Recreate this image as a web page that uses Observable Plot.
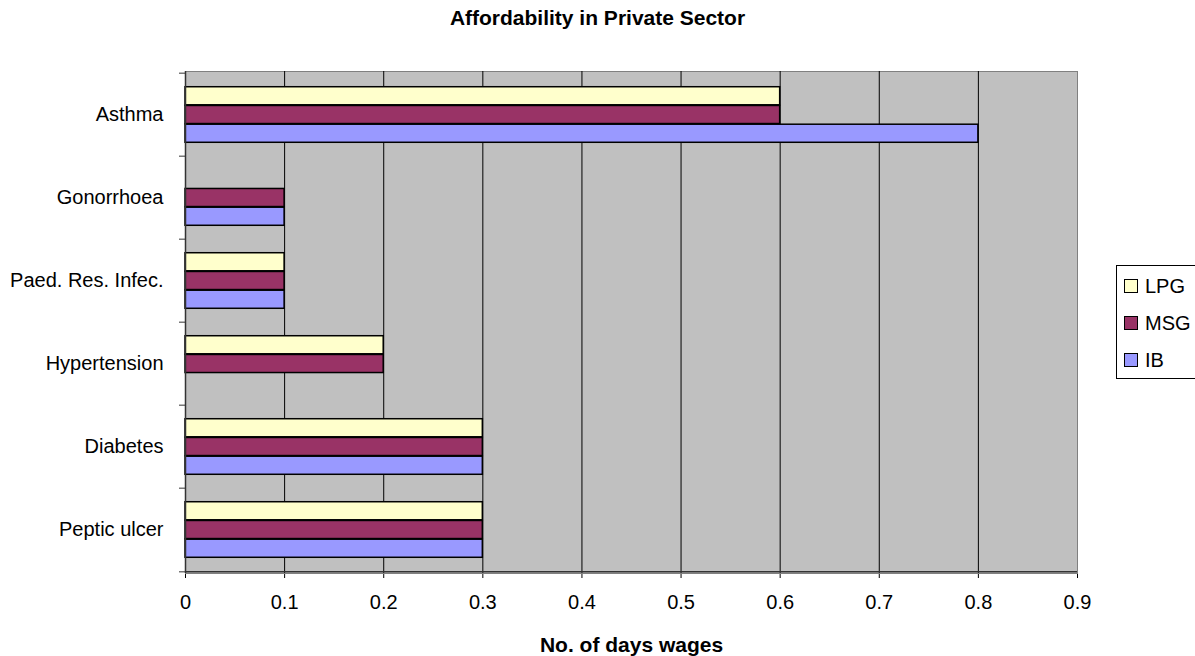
<!DOCTYPE html>
<html><head><meta charset="utf-8">
<script src="https://cdn.jsdelivr.net/npm/d3@7"></script>
<script src="https://cdn.jsdelivr.net/npm/@observablehq/plot@0.6"></script>
<style>
html,body{margin:0;padding:0;background:#fff;overflow:hidden}
#wrap{position:relative;width:1195px;height:656px;font-family:Arial,"Liberation Sans",sans-serif}
#wrap svg{display:block;position:absolute;left:0;top:0}
#title{position:absolute;left:0;top:0;width:1195px;height:36px;line-height:36px;text-align:center;font-weight:bold;font-size:21px;color:#000}
#legend{position:absolute;left:1116px;top:265px;width:90px;height:114px;box-sizing:border-box;border:1px solid #000;border-right:none;background:#fff}
.item{position:absolute;left:7px;height:20px;line-height:20px;font-size:20px;color:#000}
.sw{display:inline-block;width:12px;height:12px;border:1px solid #000;vertical-align:middle;margin-right:7px;position:relative;top:-2px}
</style></head><body>
<div id="wrap"><div id="title"></div><div id="legend"></div></div>
<script>
const chartTitle = "Affordability in Private Sector";
const xLabel = "No. of days wages";
const categories = ["Asthma", "Gonorrhoea", "Paed. Res. Infec.", "Hypertension", "Diabetes", "Peptic ulcer"];
const seriesNames = ["LPG", "MSG", "IB"];
const lpg = [0.6, null, 0.1, 0.2, 0.3, 0.3];
const msg = [0.6, 0.1, 0.1, 0.2, 0.3, 0.3];
const ib  = [0.8, 0.1, 0.1, null, 0.3, 0.3];
const xTicks = [0, 0.1, 0.2, 0.3, 0.4, 0.5, 0.6, 0.7, 0.8, 0.9];
const seriesColors = ["#FFFFCC", "#993366", "#9999FF"];

const seriesValues = [lpg, msg, ib];
const rows = categories.flatMap((c, i) =>
  seriesNames.map((s, j) => ({category: c, series: s, value: seriesValues[j][i]}))
).filter(d => d.value != null);

const W = 1195, H = 656, mL = 185, mR = 118, mT = 71, mB = 83;
const step = (H - mT - mB) / categories.length;
const barH = step * 0.224;
const inset = (step - barH) / 2;

const marks = [
  Plot.frame({fill: "#c0c0c0", stroke: "#808080"}),
  Plot.ruleX(xTicks.slice(1, -1), {stroke: "#000", strokeWidth: 1}),
  ...seriesNames.map((s, j) => Plot.barX(rows.filter(d => d.series === s), {
    x: "value", y: "category", fill: "series", stroke: "#000", strokeWidth: 1.5,
    insetTop: inset, insetBottom: inset, dy: (j - 1) * barH
  })),
  Plot.ruleX([0], {stroke: "#333", strokeWidth: 1.5}),
  Plot.ruleY([categories[categories.length - 1]], {y: d => d, dy: step / 2, stroke: "#333", strokeWidth: 1.5}),
  Plot.ruleY(categories, {y: d => d, dy: -step / 2, x1: 0, x2: 0, insetLeft: -6, stroke: "#333"}),
  Plot.ruleY([categories[categories.length - 1]], {y: d => d, dy: step / 2, x1: 0, x2: 0, insetLeft: -6, stroke: "#333"}),
  Plot.text([xLabel], {text: d => d, frameAnchor: "bottom", dy: 78, fontWeight: "bold", fontSize: 21})
];

const chart = Plot.plot({
  width: W, height: H,
  marginLeft: mL, marginRight: mR, marginTop: mT, marginBottom: mB,
  style: {fontFamily: "Arial, 'Liberation Sans', sans-serif", fontSize: "20px", color: "#000", background: "transparent"},
  x: {domain: [0, 0.9], ticks: xTicks, tickFormat: d => String(d), tickSize: 5, tickPadding: 16, label: null},
  y: {domain: categories, padding: 0, tickSize: 0, tickPadding: 22, label: null},
  color: {domain: seriesNames, range: seriesColors},
  marks
});
const wrap = document.getElementById("wrap");
wrap.insertBefore(chart, wrap.firstChild);
document.getElementById("title").textContent = chartTitle;

const legend = document.getElementById("legend");
const legendTops = [10, 47, 84];
seriesNames.forEach((s, j) => {
  const it = document.createElement("div");
  it.className = "item";
  it.style.top = legendTops[j] + "px";
  const sw = document.createElement("span");
  sw.className = "sw";
  sw.style.background = seriesColors[j];
  it.appendChild(sw);
  it.appendChild(document.createTextNode(s));
  legend.appendChild(it);
});
</script>
</body></html>
